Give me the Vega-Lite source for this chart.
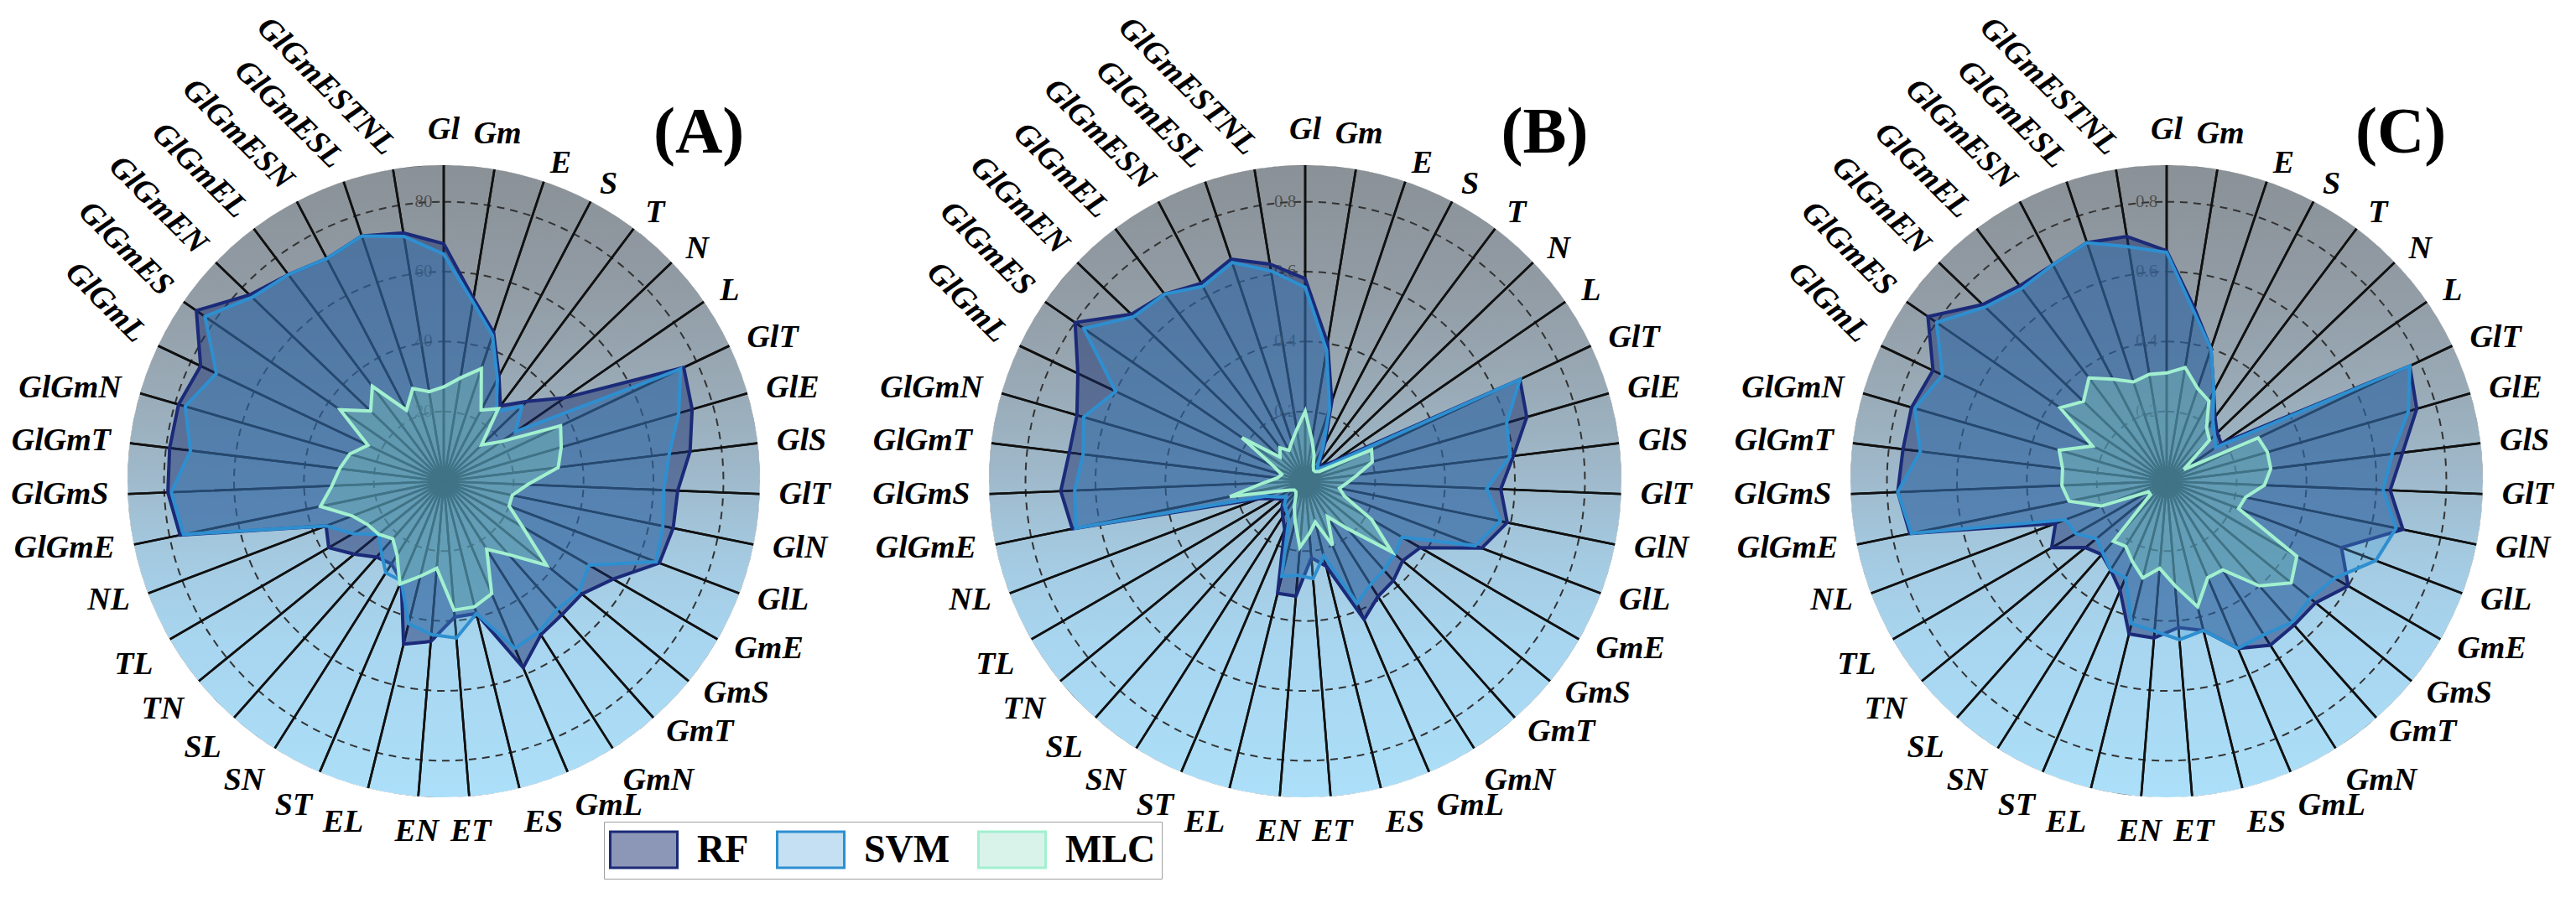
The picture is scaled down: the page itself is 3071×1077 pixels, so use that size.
{
"$schema": "https://vega.github.io/schema/vega-lite/v6.json",
"background": "white",
"padding": {"left": 13, "top": 13, "right": 5, "bottom": 5},
"bounds": "flush",
"spacing": 267,
"config": {"view": {"stroke": null}, "font": "Liberation Serif"},
"datasets": {
"A": [
{"k":"Gl","i":0,"RF":68,"SVM":65,"MLC":27},
{"k":"Gm","i":1,"RF":53,"SVM":52,"MLC":30},
{"k":"E","i":2,"RF":45,"SVM":44,"MLC":34},
{"k":"S","i":3,"RF":34,"SVM":33,"MLC":23},
{"k":"T","i":4,"RF":27,"SVM":25,"MLC":26},
{"k":"N","i":5,"RF":33,"SVM":31,"MLC":15},
{"k":"L","i":6,"RF":42,"SVM":25,"MLC":20},
{"k":"GlT","i":7,"RF":76,"SVM":75,"MLC":37},
{"k":"GlE","i":8,"RF":74,"SVM":70,"MLC":35},
{"k":"GlS","i":9,"RF":71,"SVM":65,"MLC":33},
{"k":"GlT","i":10,"RF":67,"SVM":63,"MLC":24},
{"k":"GlN","i":11,"RF":67,"SVM":64,"MLC":20},
{"k":"GlL","i":12,"RF":66,"SVM":65,"MLC":20},
{"k":"GmE","i":13,"RF":56,"SVM":48,"MLC":26},
{"k":"GmS","i":14,"RF":51,"SVM":50,"MLC":38},
{"k":"GmT","i":15,"RF":51,"SVM":49,"MLC":28},
{"k":"GmN","i":16,"RF":52,"SVM":51,"MLC":23},
{"k":"GmL","i":17,"RF":58,"SVM":52,"MLC":35},
{"k":"ES","i":18,"RF":39,"SVM":39,"MLC":37},
{"k":"ET","i":19,"RF":39,"SVM":45,"MLC":37},
{"k":"EN","i":20,"RF":46,"SVM":44,"MLC":25},
{"k":"EL","i":21,"RF":48,"SVM":42,"MLC":28},
{"k":"ST","i":22,"RF":31,"SVM":31,"MLC":32},
{"k":"SN","i":23,"RF":28,"SVM":31,"MLC":25},
{"k":"SL","i":24,"RF":29,"SVM":27,"MLC":22},
{"k":"TN","i":25,"RF":33,"SVM":24,"MLC":24},
{"k":"TL","i":26,"RF":38,"SVM":30,"MLC":25},
{"k":"NL","i":27,"RF":36,"SVM":36,"MLC":28},
{"k":"GlGmE","i":28,"RF":77,"SVM":76,"MLC":36},
{"k":"GlGmS","i":29,"RF":79,"SVM":78,"MLC":32},
{"k":"GlGmT","i":30,"RF":79,"SVM":73,"MLC":30},
{"k":"GlGmN","i":31,"RF":79,"SVM":77,"MLC":28},
{"k":"GlGmL","i":32,"RF":77,"SVM":72,"MLC":24},
{"k":"GlGmES","i":33,"RF":86,"SVM":83,"MLC":36},
{"k":"GlGmEN","i":34,"RF":77,"SVM":76,"MLC":29},
{"k":"GlGmEL","i":35,"RF":74,"SVM":74,"MLC":34},
{"k":"GlGmESN","i":36,"RF":72,"SVM":72,"MLC":23},
{"k":"GlGmESL","i":37,"RF":74,"SVM":74,"MLC":28},
{"k":"GlGmESTNL","i":38,"RF":72,"SVM":71,"MLC":26}
],
"B": [
{"k":"Gl","i":0,"RF":0.58,"SVM":0.555,"MLC":0.20},
{"k":"Gm","i":1,"RF":0.40,"SVM":0.38,"MLC":0.12},
{"k":"E","i":2,"RF":0.24,"SVM":0.22,"MLC":0.08},
{"k":"S","i":3,"RF":0.12,"SVM":0.11,"MLC":0.05},
{"k":"T","i":4,"RF":0.07,"SVM":0.06,"MLC":0.04},
{"k":"N","i":5,"RF":0.06,"SVM":0.05,"MLC":0.04},
{"k":"L","i":6,"RF":0.10,"SVM":0.08,"MLC":0.05},
{"k":"GlT","i":7,"RF":0.68,"SVM":0.68,"MLC":0.21},
{"k":"GlE","i":8,"RF":0.66,"SVM":0.60,"MLC":0.20},
{"k":"GlS","i":9,"RF":0.60,"SVM":0.59,"MLC":0.15},
{"k":"GlT","i":10,"RF":0.56,"SVM":0.52,"MLC":0.12},
{"k":"GlN","i":11,"RF":0.59,"SVM":0.57,"MLC":0.10},
{"k":"GlL","i":12,"RF":0.54,"SVM":0.52,"MLC":0.12},
{"k":"GmE","i":13,"RF":0.38,"SVM":0.32,"MLC":0.22},
{"k":"GmS","i":14,"RF":0.36,"SVM":0.33,"MLC":0.32},
{"k":"GmT","i":15,"RF":0.38,"SVM":0.34,"MLC":0.18},
{"k":"GmN","i":16,"RF":0.39,"SVM":0.35,"MLC":0.12},
{"k":"GmL","i":17,"RF":0.43,"SVM":0.38,"MLC":0.20},
{"k":"ES","i":18,"RF":0.25,"SVM":0.22,"MLC":0.12},
{"k":"ET","i":19,"RF":0.22,"SVM":0.28,"MLC":0.15},
{"k":"EN","i":20,"RF":0.33,"SVM":0.27,"MLC":0.19},
{"k":"EL","i":21,"RF":0.33,"SVM":0.28,"MLC":0.12},
{"k":"ST","i":22,"RF":0.15,"SVM":0.12,"MLC":0.08},
{"k":"SN","i":23,"RF":0.12,"SVM":0.10,"MLC":0.05},
{"k":"SL","i":24,"RF":0.10,"SVM":0.09,"MLC":0.04},
{"k":"TN","i":25,"RF":0.08,"SVM":0.07,"MLC":0.04},
{"k":"TL","i":26,"RF":0.10,"SVM":0.09,"MLC":0.05},
{"k":"NL","i":27,"RF":0.14,"SVM":0.12,"MLC":0.08},
{"k":"GlGmE","i":28,"RF":0.68,"SVM":0.67,"MLC":0.22},
{"k":"GlGmS","i":29,"RF":0.70,"SVM":0.66,"MLC":0.12},
{"k":"GlGmT","i":30,"RF":0.68,"SVM":0.64,"MLC":0.08},
{"k":"GlGmN","i":31,"RF":0.68,"SVM":0.66,"MLC":0.07},
{"k":"GlGmL","i":32,"RF":0.72,"SVM":0.60,"MLC":0.10},
{"k":"GlGmES","i":33,"RF":0.80,"SVM":0.77,"MLC":0.22},
{"k":"GlGmEN","i":34,"RF":0.69,"SVM":0.68,"MLC":0.10},
{"k":"GlGmEL","i":35,"RF":0.67,"SVM":0.67,"MLC":0.12},
{"k":"GlGmESN","i":36,"RF":0.64,"SVM":0.63,"MLC":0.10},
{"k":"GlGmESL","i":37,"RF":0.67,"SVM":0.66,"MLC":0.12},
{"k":"GlGmESTNL","i":38,"RF":0.63,"SVM":0.61,"MLC":0.15}
],
"C": [
{"k":"Gl","i":0,"RF":0.66,"SVM":0.655,"MLC":0.31},
{"k":"Gm","i":1,"RF":0.50,"SVM":0.49,"MLC":0.33},
{"k":"E","i":2,"RF":0.40,"SVM":0.40,"MLC":0.28},
{"k":"S","i":3,"RF":0.29,"SVM":0.29,"MLC":0.26},
{"k":"T","i":4,"RF":0.23,"SVM":0.22,"MLC":0.19},
{"k":"N","i":5,"RF":0.20,"SVM":0.19,"MLC":0.17},
{"k":"L","i":6,"RF":0.19,"SVM":0.17,"MLC":0.06},
{"k":"GlT","i":7,"RF":0.77,"SVM":0.77,"MLC":0.29},
{"k":"GlE","i":8,"RF":0.745,"SVM":0.72,"MLC":0.30},
{"k":"GlS","i":9,"RF":0.68,"SVM":0.65,"MLC":0.30},
{"k":"GlT","i":10,"RF":0.64,"SVM":0.62,"MLC":0.28},
{"k":"GlN","i":11,"RF":0.69,"SVM":0.67,"MLC":0.23},
{"k":"GlL","i":12,"RF":0.535,"SVM":0.64,"MLC":0.22},
{"k":"GmE","i":13,"RF":0.60,"SVM":0.555,"MLC":0.43},
{"k":"GmS","i":14,"RF":0.55,"SVM":0.53,"MLC":0.46},
{"k":"GmT","i":15,"RF":0.55,"SVM":0.54,"MLC":0.40},
{"k":"GmN","i":16,"RF":0.555,"SVM":0.52,"MLC":0.30},
{"k":"GmL","i":17,"RF":0.52,"SVM":0.52,"MLC":0.30},
{"k":"ES","i":18,"RF":0.44,"SVM":0.44,"MLC":0.37},
{"k":"ET","i":19,"RF":0.42,"SVM":0.455,"MLC":0.30},
{"k":"EN","i":20,"RF":0.45,"SVM":0.43,"MLC":0.25},
{"k":"EL","i":21,"RF":0.45,"SVM":0.42,"MLC":0.285},
{"k":"ST","i":22,"RF":0.34,"SVM":0.30,"MLC":0.25},
{"k":"SN","i":23,"RF":0.30,"SVM":0.30,"MLC":0.22},
{"k":"SL","i":24,"RF":0.28,"SVM":0.275,"MLC":0.23},
{"k":"TN","i":25,"RF":0.30,"SVM":0.26,"MLC":0.06},
{"k":"TL","i":26,"RF":0.38,"SVM":0.30,"MLC":0.06},
{"k":"NL","i":27,"RF":0.34,"SVM":0.31,"MLC":0.20},
{"k":"GlGmE","i":28,"RF":0.75,"SVM":0.745,"MLC":0.285},
{"k":"GlGmS","i":29,"RF":0.77,"SVM":0.77,"MLC":0.30},
{"k":"GlGmT","i":30,"RF":0.76,"SVM":0.71,"MLC":0.30},
{"k":"GlGmN","i":31,"RF":0.76,"SVM":0.75,"MLC":0.32},
{"k":"GlGmL","i":32,"RF":0.74,"SVM":0.71,"MLC":0.235},
{"k":"GlGmES","i":33,"RF":0.83,"SVM":0.80,"MLC":0.37},
{"k":"GlGmEN","i":34,"RF":0.73,"SVM":0.72,"MLC":0.33},
{"k":"GlGmEL","i":35,"RF":0.70,"SVM":0.69,"MLC":0.37},
{"k":"GlGmESN","i":36,"RF":0.70,"SVM":0.70,"MLC":0.33},
{"k":"GlGmESL","i":37,"RF":0.72,"SVM":0.72,"MLC":0.30},
{"k":"GlGmESTNL","i":38,"RF":0.71,"SVM":0.68,"MLC":0.31}
]
},
"resolve": {
"scale": {"x":"independent","y":"independent","radius":"independent","theta":"independent","fill":"independent","stroke":"independent"},
"legend": {"fill":"independent","stroke":"independent"}
},
"hconcat": [
{
"width": 760, "height": 760,
"data": {"name": "A"},
"layer": [
{"data": {"values": [{"c": 1}]}, "mark": {"type": "arc", "theta": 0, "theta2": 6.2832, "radius": 377, "fill": {"gradient": "linear", "x1": 0, "y1": 0, "x2": 0, "y2": 1, "stops": [{"offset": 0, "color": "#8a9197"}, {"offset": 0.2, "color": "#929ca5"}, {"offset": 0.35, "color": "#99aab6"}, {"offset": 0.5, "color": "#9fbacc"}, {"offset": 0.62, "color": "#a4cae1"}, {"offset": 0.75, "color": "#a8d5ef"}, {"offset": 1, "color": "#acdff9"}]}}, "encoding": {}},
{"data": {"values": [{"r": 20}, {"r": 40}, {"r": 60}, {"r": 80}]}, "mark": {"type": "arc", "theta": 0, "theta2": 6.2832, "filled": false, "stroke": "#333", "strokeWidth": 2, "strokeDash": [9, 7]}, "encoding": {"radius": {"field": "r", "type": "quantitative", "stack": null, "scale": {"type": "linear", "domain": [0, 90], "range": [0, 375]}}}},
{"mark": {"type": "arc", "radius": 378.4, "filled": false, "stroke": "#111", "strokeWidth": 2.6}, "encoding": {"theta": {"aggregate": "count", "type": "quantitative", "stack": true, "scale": {"domain": [0, 39]}}, "detail": {"field": "i", "type": "quantitative"}, "order": {"field": "i", "type": "quantitative"}}},
{"data": {"values": [{"c": 1}]}, "mark": {"type": "arc", "theta": 0, "theta2": 6.2832, "radius": 396, "radius2": 377, "fill": "white"}, "encoding": {}},
{"data": {"values": [{"r": 20}, {"r": 40}, {"r": 60}, {"r": 80}]}, "mark": {"type": "text", "dx": -24, "font": "Liberation Serif", "fontSize": 21, "color": "#444", "opacity": 0.85}, "encoding": {"radius": {"field": "r", "type": "quantitative", "stack": null, "scale": {"type": "linear", "domain": [0, 90], "range": [0, 375]}}, "text": {"field": "r", "type": "quantitative"}}},
{"transform": [{"fold": ["RF", "SVM", "MLC"], "as": ["model", "v"]}, {"calculate": "datum.v*sin(2*PI*datum.i/39)", "as": "px"}, {"calculate": "datum.v*cos(2*PI*datum.i/39)", "as": "py"}],
 "mark": {"type": "line", "interpolate": "linear-closed", "strokeWidth": 4, "strokeJoin": "miter"},
 "encoding": {
  "x": {"field": "px", "type": "quantitative", "scale": {"domain": [-90, 90], "range": [5, 755], "nice": false, "zero": false}, "axis": null},
  "y": {"field": "py", "type": "quantitative", "scale": {"domain": [-90, 90], "range": [755, 5], "nice": false, "zero": false}, "axis": null},
  "order": {"field": "i", "type": "quantitative"},
  "fill": {"field": "model", "type": "nominal", "scale": {"domain": ["RF", "SVM", "MLC"], "range": ["rgba(26,45,110,0.5)", "rgba(70,160,215,0.32)", "rgba(130,215,190,0.3)"]}, "legend": {"orient": "none", "legendX": 571, "legendY": 786, "direction": "horizontal", "columns": 3, "title": null, "symbolType": "M-1.6,-0.86H1.6V0.86H-1.6Z", "symbolSize": 2500, "symbolStrokeWidth": 3, "symbolOffset": 14, "labelFont": "Liberation Serif", "labelFontSize": 46, "labelFontWeight": "bold", "labelColor": "#000", "labelOffset": 37, "labelLimit": 400, "columnPadding": 27, "padding": 7, "strokeColor": "#a0a0a0", "fillColor": "#fff"}},
  "stroke": {"field": "model", "type": "nominal", "scale": {"domain": ["RF", "SVM", "MLC"], "range": ["#1b2a78", "#2e8fd0", "#a2f0cf"]}, "legend": {"orient": "none", "legendX": 571, "legendY": 786, "direction": "horizontal", "columns": 3, "title": null, "symbolType": "M-1.6,-0.86H1.6V0.86H-1.6Z", "symbolSize": 2500, "symbolStrokeWidth": 3, "symbolOffset": 14, "labelFont": "Liberation Serif", "labelFontSize": 46, "labelFontWeight": "bold", "labelColor": "#000", "labelOffset": 37, "labelLimit": 400, "columnPadding": 27, "padding": 7, "strokeColor": "#a0a0a0", "fillColor": "#fff"}}
 }},
{"data": {"values": [{"t": "(A)"}]}, "mark": {"type": "text", "align": "right", "baseline": "alphabetic", "font": "Liberation Serif", "fontSize": 78, "fontWeight": "bold", "color": "#000"}, "encoding": {"x": {"datum": 86}, "y": {"datum": 94}, "text": {"field": "t"}}},
{"transform": [{"filter": "datum.i<=1"}], "mark": {"type": "text", "radius": 400, "align": "center", "baseline": "bottom", "font": "Liberation Serif", "fontSize": 38, "fontStyle": "italic", "fontWeight": "bold", "color": "#000"}, "encoding": {"theta": {"field": "i", "type": "quantitative", "scale": {"domain": [0, 39]}}, "text": {"field": "k"}}},
{"transform": [{"filter": "datum.i>=2 && datum.i<=15"}], "mark": {"type": "text", "radius": 400, "align": "left", "baseline": "middle", "font": "Liberation Serif", "fontSize": 38, "fontStyle": "italic", "fontWeight": "bold", "color": "#000"}, "encoding": {"theta": {"field": "i", "type": "quantitative", "scale": {"domain": [0, 39]}}, "text": {"field": "k"}}},
{"transform": [{"filter": "datum.i>=16 && datum.i<=18"}], "mark": {"type": "text", "radius": 400, "align": "left", "baseline": "top", "font": "Liberation Serif", "fontSize": 38, "fontStyle": "italic", "fontWeight": "bold", "color": "#000"}, "encoding": {"theta": {"field": "i", "type": "quantitative", "scale": {"domain": [0, 39]}}, "text": {"field": "k"}}},
{"transform": [{"filter": "datum.i>=19 && datum.i<=20"}], "mark": {"type": "text", "radius": 400, "align": "center", "baseline": "top", "font": "Liberation Serif", "fontSize": 38, "fontStyle": "italic", "fontWeight": "bold", "color": "#000"}, "encoding": {"theta": {"field": "i", "type": "quantitative", "scale": {"domain": [0, 39]}}, "text": {"field": "k"}}},
{"transform": [{"filter": "datum.i>=21 && datum.i<=26"}], "mark": {"type": "text", "radius": 400, "align": "right", "baseline": "top", "font": "Liberation Serif", "fontSize": 38, "fontStyle": "italic", "fontWeight": "bold", "color": "#000"}, "encoding": {"theta": {"field": "i", "type": "quantitative", "scale": {"domain": [0, 39]}}, "text": {"field": "k"}}},
{"transform": [{"filter": "datum.i>=27 && datum.i<=31"}], "mark": {"type": "text", "radius": 400, "align": "right", "baseline": "middle", "font": "Liberation Serif", "fontSize": 38, "fontStyle": "italic", "fontWeight": "bold", "color": "#000"}, "encoding": {"theta": {"field": "i", "type": "quantitative", "scale": {"domain": [0, 39]}}, "text": {"field": "k"}}},
{"transform": [{"filter": "datum.i>=32"}], "mark": {"type": "text", "radius": 400, "angle": 45, "align": "right", "baseline": "middle", "font": "Liberation Serif", "fontSize": 38, "fontStyle": "italic", "fontWeight": "bold", "color": "#000"}, "encoding": {"theta": {"field": "i", "type": "quantitative", "scale": {"domain": [0, 39]}}, "text": {"field": "k"}}}
]
},
{
"width": 760, "height": 760,
"data": {"name": "B"},
"layer": [
{"data": {"values": [{"c": 1}]}, "mark": {"type": "arc", "theta": 0, "theta2": 6.2832, "radius": 377, "fill": {"gradient": "linear", "x1": 0, "y1": 0, "x2": 0, "y2": 1, "stops": [{"offset": 0, "color": "#8a9197"}, {"offset": 0.2, "color": "#929ca5"}, {"offset": 0.35, "color": "#99aab6"}, {"offset": 0.5, "color": "#9fbacc"}, {"offset": 0.62, "color": "#a4cae1"}, {"offset": 0.75, "color": "#a8d5ef"}, {"offset": 1, "color": "#acdff9"}]}}, "encoding": {}},
{"data": {"values": [{"r": 0.2}, {"r": 0.4}, {"r": 0.6}, {"r": 0.8}]}, "mark": {"type": "arc", "theta": 0, "theta2": 6.2832, "filled": false, "stroke": "#333", "strokeWidth": 2, "strokeDash": [9, 7]}, "encoding": {"radius": {"field": "r", "type": "quantitative", "stack": null, "scale": {"type": "linear", "domain": [0, 0.9], "range": [0, 375]}}}},
{"mark": {"type": "arc", "radius": 378.4, "filled": false, "stroke": "#111", "strokeWidth": 2.6}, "encoding": {"theta": {"aggregate": "count", "type": "quantitative", "stack": true, "scale": {"domain": [0, 39]}}, "detail": {"field": "i", "type": "quantitative"}, "order": {"field": "i", "type": "quantitative"}}},
{"data": {"values": [{"c": 1}]}, "mark": {"type": "arc", "theta": 0, "theta2": 6.2832, "radius": 396, "radius2": 377, "fill": "white"}, "encoding": {}},
{"data": {"values": [{"r": 0.2}, {"r": 0.4}, {"r": 0.6}, {"r": 0.8}]}, "mark": {"type": "text", "dx": -24, "font": "Liberation Serif", "fontSize": 21, "color": "#444", "opacity": 0.85}, "encoding": {"radius": {"field": "r", "type": "quantitative", "stack": null, "scale": {"type": "linear", "domain": [0, 0.9], "range": [0, 375]}}, "text": {"field": "r", "type": "quantitative", "format": ".1f"}}},
{"transform": [{"fold": ["RF", "SVM", "MLC"], "as": ["model", "v"]}, {"calculate": "datum.v*sin(2*PI*datum.i/39)", "as": "px"}, {"calculate": "datum.v*cos(2*PI*datum.i/39)", "as": "py"}],
 "mark": {"type": "line", "interpolate": "linear-closed", "strokeWidth": 4, "strokeJoin": "miter"},
 "encoding": {
  "x": {"field": "px", "type": "quantitative", "scale": {"domain": [-0.9, 0.9], "range": [5, 755], "nice": false, "zero": false}, "axis": null},
  "y": {"field": "py", "type": "quantitative", "scale": {"domain": [-0.9, 0.9], "range": [755, 5], "nice": false, "zero": false}, "axis": null},
  "order": {"field": "i", "type": "quantitative"},
  "fill": {"field": "model", "type": "nominal", "scale": {"domain": ["RF", "SVM", "MLC"], "range": ["rgba(26,45,110,0.5)", "rgba(70,160,215,0.32)", "rgba(130,215,190,0.3)"]}, "legend": null},
  "stroke": {"field": "model", "type": "nominal", "scale": {"domain": ["RF", "SVM", "MLC"], "range": ["#1b2a78", "#2e8fd0", "#a2f0cf"]}, "legend": null}
 }},
{"data": {"values": [{"t": "(B)"}]}, "mark": {"type": "text", "align": "right", "baseline": "alphabetic", "font": "Liberation Serif", "fontSize": 78, "fontWeight": "bold", "color": "#000"}, "encoding": {"x": {"datum": 0.81}, "y": {"datum": 0.94}, "text": {"field": "t"}}},
{"transform": [{"filter": "datum.i<=1"}], "mark": {"type": "text", "radius": 400, "align": "center", "baseline": "bottom", "font": "Liberation Serif", "fontSize": 38, "fontStyle": "italic", "fontWeight": "bold", "color": "#000"}, "encoding": {"theta": {"field": "i", "type": "quantitative", "scale": {"domain": [0, 39]}}, "text": {"field": "k"}}},
{"transform": [{"filter": "datum.i>=2 && datum.i<=15"}], "mark": {"type": "text", "radius": 400, "align": "left", "baseline": "middle", "font": "Liberation Serif", "fontSize": 38, "fontStyle": "italic", "fontWeight": "bold", "color": "#000"}, "encoding": {"theta": {"field": "i", "type": "quantitative", "scale": {"domain": [0, 39]}}, "text": {"field": "k"}}},
{"transform": [{"filter": "datum.i>=16 && datum.i<=18"}], "mark": {"type": "text", "radius": 400, "align": "left", "baseline": "top", "font": "Liberation Serif", "fontSize": 38, "fontStyle": "italic", "fontWeight": "bold", "color": "#000"}, "encoding": {"theta": {"field": "i", "type": "quantitative", "scale": {"domain": [0, 39]}}, "text": {"field": "k"}}},
{"transform": [{"filter": "datum.i>=19 && datum.i<=20"}], "mark": {"type": "text", "radius": 400, "align": "center", "baseline": "top", "font": "Liberation Serif", "fontSize": 38, "fontStyle": "italic", "fontWeight": "bold", "color": "#000"}, "encoding": {"theta": {"field": "i", "type": "quantitative", "scale": {"domain": [0, 39]}}, "text": {"field": "k"}}},
{"transform": [{"filter": "datum.i>=21 && datum.i<=26"}], "mark": {"type": "text", "radius": 400, "align": "right", "baseline": "top", "font": "Liberation Serif", "fontSize": 38, "fontStyle": "italic", "fontWeight": "bold", "color": "#000"}, "encoding": {"theta": {"field": "i", "type": "quantitative", "scale": {"domain": [0, 39]}}, "text": {"field": "k"}}},
{"transform": [{"filter": "datum.i>=27 && datum.i<=31"}], "mark": {"type": "text", "radius": 400, "align": "right", "baseline": "middle", "font": "Liberation Serif", "fontSize": 38, "fontStyle": "italic", "fontWeight": "bold", "color": "#000"}, "encoding": {"theta": {"field": "i", "type": "quantitative", "scale": {"domain": [0, 39]}}, "text": {"field": "k"}}},
{"transform": [{"filter": "datum.i>=32"}], "mark": {"type": "text", "radius": 400, "angle": 45, "align": "right", "baseline": "middle", "font": "Liberation Serif", "fontSize": 38, "fontStyle": "italic", "fontWeight": "bold", "color": "#000"}, "encoding": {"theta": {"field": "i", "type": "quantitative", "scale": {"domain": [0, 39]}}, "text": {"field": "k"}}}
]
},
{
"width": 760, "height": 760,
"data": {"name": "C"},
"layer": [
{"data": {"values": [{"c": 1}]}, "mark": {"type": "arc", "theta": 0, "theta2": 6.2832, "radius": 377, "fill": {"gradient": "linear", "x1": 0, "y1": 0, "x2": 0, "y2": 1, "stops": [{"offset": 0, "color": "#8a9197"}, {"offset": 0.2, "color": "#929ca5"}, {"offset": 0.35, "color": "#99aab6"}, {"offset": 0.5, "color": "#9fbacc"}, {"offset": 0.62, "color": "#a4cae1"}, {"offset": 0.75, "color": "#a8d5ef"}, {"offset": 1, "color": "#acdff9"}]}}, "encoding": {}},
{"data": {"values": [{"r": 0.2}, {"r": 0.4}, {"r": 0.6}, {"r": 0.8}]}, "mark": {"type": "arc", "theta": 0, "theta2": 6.2832, "filled": false, "stroke": "#333", "strokeWidth": 2, "strokeDash": [9, 7]}, "encoding": {"radius": {"field": "r", "type": "quantitative", "stack": null, "scale": {"type": "linear", "domain": [0, 0.9], "range": [0, 375]}}}},
{"mark": {"type": "arc", "radius": 378.4, "filled": false, "stroke": "#111", "strokeWidth": 2.6}, "encoding": {"theta": {"aggregate": "count", "type": "quantitative", "stack": true, "scale": {"domain": [0, 39]}}, "detail": {"field": "i", "type": "quantitative"}, "order": {"field": "i", "type": "quantitative"}}},
{"data": {"values": [{"c": 1}]}, "mark": {"type": "arc", "theta": 0, "theta2": 6.2832, "radius": 396, "radius2": 377, "fill": "white"}, "encoding": {}},
{"data": {"values": [{"r": 0.2}, {"r": 0.4}, {"r": 0.6}, {"r": 0.8}]}, "mark": {"type": "text", "dx": -24, "font": "Liberation Serif", "fontSize": 21, "color": "#444", "opacity": 0.85}, "encoding": {"radius": {"field": "r", "type": "quantitative", "stack": null, "scale": {"type": "linear", "domain": [0, 0.9], "range": [0, 375]}}, "text": {"field": "r", "type": "quantitative", "format": ".1f"}}},
{"transform": [{"fold": ["RF", "SVM", "MLC"], "as": ["model", "v"]}, {"calculate": "datum.v*sin(2*PI*datum.i/39)", "as": "px"}, {"calculate": "datum.v*cos(2*PI*datum.i/39)", "as": "py"}],
 "mark": {"type": "line", "interpolate": "linear-closed", "strokeWidth": 4, "strokeJoin": "miter"},
 "encoding": {
  "x": {"field": "px", "type": "quantitative", "scale": {"domain": [-0.9, 0.9], "range": [5, 755], "nice": false, "zero": false}, "axis": null},
  "y": {"field": "py", "type": "quantitative", "scale": {"domain": [-0.9, 0.9], "range": [755, 5], "nice": false, "zero": false}, "axis": null},
  "order": {"field": "i", "type": "quantitative"},
  "fill": {"field": "model", "type": "nominal", "scale": {"domain": ["RF", "SVM", "MLC"], "range": ["rgba(26,45,110,0.5)", "rgba(70,160,215,0.32)", "rgba(130,215,190,0.3)"]}, "legend": null},
  "stroke": {"field": "model", "type": "nominal", "scale": {"domain": ["RF", "SVM", "MLC"], "range": ["#1b2a78", "#2e8fd0", "#a2f0cf"]}, "legend": null}
 }},
{"data": {"values": [{"t": "(C)"}]}, "mark": {"type": "text", "align": "right", "baseline": "alphabetic", "font": "Liberation Serif", "fontSize": 78, "fontWeight": "bold", "color": "#000"}, "encoding": {"x": {"datum": 0.80}, "y": {"datum": 0.94}, "text": {"field": "t"}}},
{"transform": [{"filter": "datum.i<=1"}], "mark": {"type": "text", "radius": 400, "align": "center", "baseline": "bottom", "font": "Liberation Serif", "fontSize": 38, "fontStyle": "italic", "fontWeight": "bold", "color": "#000"}, "encoding": {"theta": {"field": "i", "type": "quantitative", "scale": {"domain": [0, 39]}}, "text": {"field": "k"}}},
{"transform": [{"filter": "datum.i>=2 && datum.i<=15"}], "mark": {"type": "text", "radius": 400, "align": "left", "baseline": "middle", "font": "Liberation Serif", "fontSize": 38, "fontStyle": "italic", "fontWeight": "bold", "color": "#000"}, "encoding": {"theta": {"field": "i", "type": "quantitative", "scale": {"domain": [0, 39]}}, "text": {"field": "k"}}},
{"transform": [{"filter": "datum.i>=16 && datum.i<=18"}], "mark": {"type": "text", "radius": 400, "align": "left", "baseline": "top", "font": "Liberation Serif", "fontSize": 38, "fontStyle": "italic", "fontWeight": "bold", "color": "#000"}, "encoding": {"theta": {"field": "i", "type": "quantitative", "scale": {"domain": [0, 39]}}, "text": {"field": "k"}}},
{"transform": [{"filter": "datum.i>=19 && datum.i<=20"}], "mark": {"type": "text", "radius": 400, "align": "center", "baseline": "top", "font": "Liberation Serif", "fontSize": 38, "fontStyle": "italic", "fontWeight": "bold", "color": "#000"}, "encoding": {"theta": {"field": "i", "type": "quantitative", "scale": {"domain": [0, 39]}}, "text": {"field": "k"}}},
{"transform": [{"filter": "datum.i>=21 && datum.i<=26"}], "mark": {"type": "text", "radius": 400, "align": "right", "baseline": "top", "font": "Liberation Serif", "fontSize": 38, "fontStyle": "italic", "fontWeight": "bold", "color": "#000"}, "encoding": {"theta": {"field": "i", "type": "quantitative", "scale": {"domain": [0, 39]}}, "text": {"field": "k"}}},
{"transform": [{"filter": "datum.i>=27 && datum.i<=31"}], "mark": {"type": "text", "radius": 400, "align": "right", "baseline": "middle", "font": "Liberation Serif", "fontSize": 38, "fontStyle": "italic", "fontWeight": "bold", "color": "#000"}, "encoding": {"theta": {"field": "i", "type": "quantitative", "scale": {"domain": [0, 39]}}, "text": {"field": "k"}}},
{"transform": [{"filter": "datum.i>=32"}], "mark": {"type": "text", "radius": 400, "angle": 45, "align": "right", "baseline": "middle", "font": "Liberation Serif", "fontSize": 38, "fontStyle": "italic", "fontWeight": "bold", "color": "#000"}, "encoding": {"theta": {"field": "i", "type": "quantitative", "scale": {"domain": [0, 39]}}, "text": {"field": "k"}}}
]
}
]
}
